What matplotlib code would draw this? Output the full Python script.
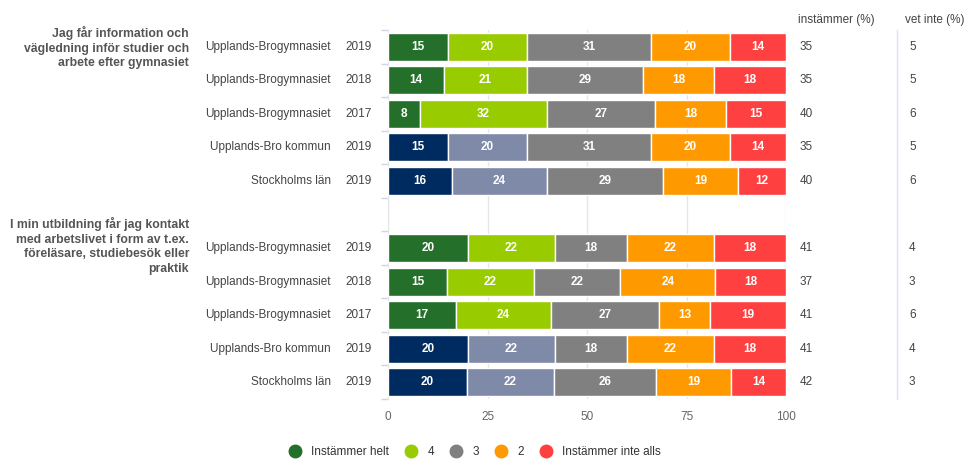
import numpy as np
import matplotlib
matplotlib.use("Agg")
import matplotlib.pyplot as plt
import matplotlib.transforms as mtransforms
from matplotlib.lines import Line2D

plt.rcParams['font.family'] = ['Liberation Sans', 'DejaVu Sans']

# data
questions = ["Jag får information och\nvägledning inför studier och\narbete efter gymnasiet",
             "I min utbildning får jag kontakt\nmed arbetslivet i form av t.ex.\nföreläsare, studiebesök eller\npraktik"]
names = ["Upplands-Brogymnasiet", "Upplands-Brogymnasiet", "Upplands-Brogymnasiet",
         "Upplands-Bro kommun", "Stockholms län"] * 2
years = ["2019", "2018", "2017", "2019", "2019"] * 2
helt = [15, 14, 8, 15, 16, 20, 15, 17, 20, 20]
fyra = [20, 21, 32, 20, 24, 22, 22, 24, 22, 22]
tre = [31, 29, 27, 31, 29, 18, 22, 27, 18, 26]
tva = [20, 18, 18, 20, 19, 22, 24, 13, 22, 19]
inte = [14, 18, 15, 14, 12, 18, 18, 19, 18, 14]
instammer = [35, 35, 40, 35, 40, 41, 37, 41, 41, 42]
vet_inte = [5, 5, 6, 5, 6, 4, 3, 6, 4, 3]
school = [True, True, True, False, False] * 2

legend_labels = ["Instämmer helt", "4", "3", "2", "Instämmer inte alls"]
colors_school = ["#24702a", "#99cc00", "#808080", "#ff9900", "#ff4040"]
colors_other = ["#002b60", "#7f8aa8", "#808080", "#ff9900", "#ff4040"]

fig = plt.figure(figsize=(9.68, 4.59), dpi=100)
ax = fig.add_axes([388 / 968, 1 - 399 / 459, 398 / 968, 369 / 459])

ypos = [0, 1, 2, 3, 4, 6, 7, 8, 9, 10]
series = np.array([helt, fyra, tre, tva, inte], dtype=float)
pct = series / series.sum(axis=0) * 100

left = np.zeros(len(ypos))
for k in range(5):
    cols = [colors_school[k] if s else colors_other[k] for s in school]
    ax.barh(ypos, pct[k], left=left, height=0.84, color=cols,
            edgecolor='white', linewidth=1, zorder=3)
    for i, y in enumerate(ypos):
        ax.text(left[i] + pct[k][i] / 2, y, str(int(series[k][i])), ha='center', va='center',
                color='white', fontsize=8.5, fontweight='bold', zorder=4)
    left += pct[k]

ax.set_xlim(0, 100)
ax.set_ylim(10.5, -0.5)
ax.set_xticks([0, 25, 50, 75, 100])
ax.tick_params(axis='x', length=0, labelsize=8.5, labelcolor='#666666', pad=9)
ax.set_yticks([])
ax.set_yticks(np.arange(-0.5, 11, 1), minor=True)
ax.tick_params(axis='y', which='minor', length=5, color='#ccd6eb', width=1)
ax.grid(axis='x', color='#e6e6e6', linewidth=1, zorder=0)
for s in ['top', 'right', 'bottom']:
    ax.spines[s].set_visible(False)
ax.spines['left'].set_color('#e6e6e6')

tr = mtransforms.blended_transform_factory(fig.transFigure, ax.transData)
for i, y in enumerate(ypos):
    fig.text(331 / 968, y, names[i], transform=tr, ha='right', va='center',
             fontsize=8.5, color='#444444')
    fig.text(372 / 968, y, years[i], transform=tr, ha='right', va='center',
             fontsize=8.5, color='#444444')
    fig.text(800 / 968, y, str(instammer[i]), transform=tr, ha='left', va='center',
             fontsize=8.5, color='#444444')
    fig.text(909 / 968, y, str(vet_inte[i]), transform=tr, ha='left', va='center',
             fontsize=8.5, color='#444444')

fig.text(189 / 968, 1 - 26 / 459, questions[0], ha='right', va='top', fontsize=8.8,
         fontweight='bold', color='#555555', linespacing=1.3)
fig.text(189 / 968, 1 - 217 / 459, questions[1], ha='right', va='top', fontsize=8.8,
         fontweight='bold', color='#555555', linespacing=1.3)

fig.text(798 / 968, 1 - 20 / 459, "instämmer (%)", ha='left', va='center', fontsize=8.5, color='#444444')
fig.text(905 / 968, 1 - 20 / 459, "vet inte (%)", ha='left', va='center', fontsize=8.5, color='#444444')
fig.add_artist(Line2D([897 / 968, 897 / 968], [1 - 30 / 459, 1 - 399 / 459],
                      transform=fig.transFigure, color='#dde3f0', linewidth=1))

handles = [Line2D([], [], marker='o', linestyle='', markersize=9, color=c) for c in colors_school]
fig.legend(handles, legend_labels, loc='center', bbox_to_anchor=(472 / 968, 1 - 452 / 459),
           ncol=5, frameon=False, fontsize=8.5, handletextpad=0.4, columnspacing=0.85,
           labelcolor='#333333')

fig.savefig("out.png", dpi=100)
